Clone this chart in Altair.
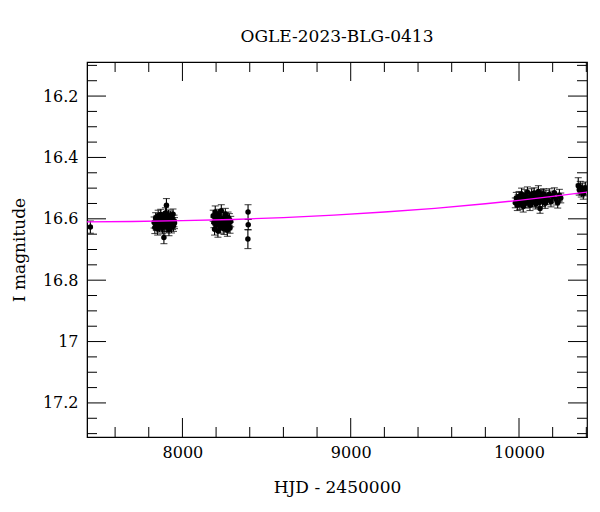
import altair as alt
import pandas as pd

# ---- photometry (HJD-2450000, I mag, error) ----
hjd_0 = [7453]
mag_0 = [16.627]
err_0 = [0.020]

hjd_a = [7832, 7836, 7841, 7845, 7849, 7853, 7856, 7860, 7864, 7867, 7871, 7874, 7878,
         7881, 7885, 7888, 7890, 7893, 7896, 7899, 7902, 7905, 7908, 7911, 7914, 7917,
         7920, 7923, 7926, 7929, 7932, 7935, 7938, 7941, 7944, 7947, 7950, 7953]
mag_a = [16.612, 16.628, 16.597, 16.619, 16.605, 16.633, 16.590, 16.615, 16.624, 16.601,
         16.586, 16.618, 16.609, 16.630, 16.596, 16.614, 16.661, 16.603, 16.622, 16.581,
         16.610, 16.556, 16.627, 16.598, 16.617, 16.589, 16.635, 16.606, 16.620, 16.593,
         16.612, 16.626, 16.600, 16.616, 16.585, 16.623, 16.607, 16.614]
err_a = [0.018, 0.020, 0.017, 0.019, 0.016, 0.020, 0.018, 0.017, 0.019, 0.018,
         0.017, 0.020, 0.018, 0.019, 0.017, 0.018, 0.020, 0.018, 0.019, 0.017,
         0.018, 0.022, 0.019, 0.018, 0.017, 0.018, 0.020, 0.017, 0.019, 0.018,
         0.017, 0.020, 0.018, 0.019, 0.017, 0.018, 0.019, 0.018]

hjd_b = [8183, 8187, 8191, 8195, 8199, 8203, 8207, 8211, 8215, 8219, 8223, 8227, 8231,
         8235, 8239, 8243, 8247, 8251, 8255, 8259, 8263, 8267, 8271, 8275, 8279, 8283, 8287]
mag_b = [16.590, 16.612, 16.634, 16.578, 16.605, 16.621, 16.596, 16.640, 16.587, 16.615,
         16.603, 16.628, 16.574, 16.610, 16.619, 16.598, 16.633, 16.606, 16.584, 16.624,
         16.612, 16.637, 16.595, 16.618, 16.602, 16.629, 16.609]
err_b = [0.018, 0.017, 0.019, 0.020, 0.017, 0.018, 0.019, 0.020, 0.018, 0.017,
         0.018, 0.019, 0.020, 0.017, 0.018, 0.019, 0.018, 0.017, 0.018, 0.019,
         0.018, 0.020, 0.017, 0.018, 0.019, 0.018, 0.017]

hjd_c = [8390, 8391, 8389]
mag_c = [16.578, 16.619, 16.666]
err_c = [0.024, 0.017, 0.031]

hjd_d = [9978, 9984, 9990, 9995, 10000, 10005, 10010, 10015, 10020, 10025, 10030, 10035,
         10040, 10045, 10050, 10055, 10060, 10065, 10070, 10075, 10080, 10085, 10090,
         10095, 10100, 10105, 10110, 10115, 10120, 10125, 10130, 10135, 10140, 10145,
         10150, 10155, 10160, 10170, 10180, 10190, 10200, 10210, 10220, 10230, 10240, 10248]
mag_d = [16.548, 16.532, 16.556, 16.541, 16.527, 16.552, 16.538, 16.519, 16.545, 16.560,
         16.533, 16.524, 16.549, 16.537, 16.513, 16.543, 16.529, 16.555, 16.535, 16.521,
         16.546, 16.531, 16.516, 16.540, 16.552, 16.528, 16.536, 16.511, 16.547, 16.566,
         16.530, 16.522, 16.541, 16.518, 16.534, 16.549, 16.526, 16.538, 16.520, 16.544,
         16.529, 16.515, 16.537, 16.548, 16.523, 16.532]
err_d = [0.016, 0.018, 0.017, 0.019, 0.016, 0.018, 0.017, 0.019, 0.016, 0.018,
         0.017, 0.019, 0.016, 0.018, 0.017, 0.019, 0.016, 0.018, 0.017, 0.019,
         0.016, 0.018, 0.017, 0.019, 0.016, 0.018, 0.017, 0.019, 0.016, 0.016,
         0.018, 0.017, 0.019, 0.016, 0.018, 0.017, 0.019, 0.016, 0.018, 0.017,
         0.019, 0.016, 0.018, 0.017, 0.019, 0.016]

hjd_e = [10352, 10358, 10364, 10370, 10376, 10382, 10388, 10394]
mag_e = [16.492, 16.505, 16.498, 16.512, 16.503, 16.518, 16.508, 16.500]
err_e = [0.026, 0.018, 0.020, 0.017, 0.019, 0.018, 0.017, 0.020]

# ---- model curve ----
model_hjd = [7433, 7700, 8000, 8300, 8600, 8900, 9200, 9500, 9800, 10000, 10200, 10404]
model_mag = [16.610, 16.609, 16.606, 16.602, 16.596, 16.588, 16.578, 16.566, 16.551,
             16.540, 16.527, 16.513]

# ---- axes ----
x_major = [8000, 9000, 10000]
x_minor = [7600, 7800, 8200, 8400, 8600, 8800, 9200, 9400, 9600, 9800, 10200, 10400]
y_major = [16.2, 16.4, 16.6, 16.8, 17.0, 17.2]
y_minor = [16.1, 16.15, 16.25, 16.3, 16.35, 16.45, 16.5, 16.55, 16.65, 16.7, 16.75,
           16.85, 16.9, 16.95, 17.05, 17.1, 17.15, 17.25, 17.3]
x_domain = [7433, 10404]
y_domain = [16.089, 17.311]

W, H = 500, 375
FONT = "DejaVu Serif"

obs = pd.DataFrame({
    "hjd": hjd_0 + hjd_a + hjd_b + hjd_c + hjd_d + hjd_e,
    "mag": mag_0 + mag_a + mag_b + mag_c + mag_d + mag_e,
    "err": err_0 + err_a + err_b + err_c + err_d + err_e,
})
obs["lo"] = obs["mag"] - obs["err"]
obs["hi"] = obs["mag"] + obs["err"]
model = pd.DataFrame({"hjd": model_hjd, "mag": model_mag})

xs = alt.Scale(domain=x_domain, nice=False, zero=False)
ys = alt.Scale(domain=y_domain, nice=False, zero=False, reverse=True)

axis_style = dict(ticks=False, grid=False, labelFont=FONT, titleFont=FONT,
                  labelFontSize=16, titleFontSize=17, labelColor="black",
                  titleColor="black", titleFontWeight="normal", domainColor="black")
x_axis = alt.Axis(values=x_major, format="d", title="HJD - 2450000",
                  labelPadding=7, titlePadding=19, **axis_style)
y_axis = alt.Axis(values=y_major, format="~f", title="I magnitude",
                  labelPadding=9, titlePadding=14, **axis_style)

def X(field):
    return alt.X(field, scale=xs, axis=x_axis)

def Y(field):
    return alt.Y(field, scale=ys, axis=y_axis)

base = alt.Chart(obs)
bars = base.mark_rule(color="black", strokeWidth=1.1, clip=True).encode(
    x=X("hjd:Q"), y=Y("lo:Q"), y2="hi:Q")
cap_lo = base.mark_tick(color="black", orient="horizontal", size=7, thickness=1.1,
                        clip=True).encode(x=X("hjd:Q"), y=Y("lo:Q"))
cap_hi = base.mark_tick(color="black", orient="horizontal", size=7, thickness=1.1,
                        clip=True).encode(x=X("hjd:Q"), y=Y("hi:Q"))
pts = base.mark_circle(color="black", opacity=1, size=30, clip=True).encode(
    x=X("hjd:Q"), y=Y("mag:Q"))
line = alt.Chart(model).mark_line(color="#ff00ff", strokeWidth=1.4, clip=True).encode(
    x=X("hjd:Q"), y=Y("mag:Q"))

def xticks(vals, length):
    d = alt.Chart(pd.DataFrame({"hjd": vals}))
    top = d.mark_rule(color="black", strokeWidth=1).encode(
        x=X("hjd:Q"), y=alt.value(0), y2=alt.value(length))
    bot = d.mark_rule(color="black", strokeWidth=1).encode(
        x=X("hjd:Q"), y=alt.value(H), y2=alt.value(H - length))
    return [top, bot]

def yticks(vals, length):
    d = alt.Chart(pd.DataFrame({"mag": vals}))
    left = d.mark_rule(color="black", strokeWidth=1).encode(
        y=Y("mag:Q"), x=alt.value(0), x2=alt.value(length))
    right = d.mark_rule(color="black", strokeWidth=1).encode(
        y=Y("mag:Q"), x=alt.value(W), x2=alt.value(W - length))
    return [left, right]

layers = [bars, cap_lo, cap_hi, pts, line] + xticks(x_major, 19) + xticks(x_minor, 10) \
    + yticks(y_major, 19) + yticks(y_minor, 10)

chart = alt.layer(*layers).properties(
    width=W, height=H, background="white",
    title=alt.TitleParams("OGLE-2023-BLG-0413", font=FONT, fontSize=17,
                          fontWeight="normal", color="black", anchor="middle", offset=16),
    autosize=alt.AutoSizeParams(type="none"),
    padding={"left": 79, "top": 54, "right": 5, "bottom": 70},
).configure_view(stroke="black", strokeWidth=1.2).configure_axis(
    domainColor="black", labelFont=FONT, titleFont=FONT, labelFontSize=16,
    titleFontSize=17, labelColor="black", titleColor="black", titleFontWeight="normal",
)

chart.save("out.html", embed_options={"renderer": "svg", "actions": False})
